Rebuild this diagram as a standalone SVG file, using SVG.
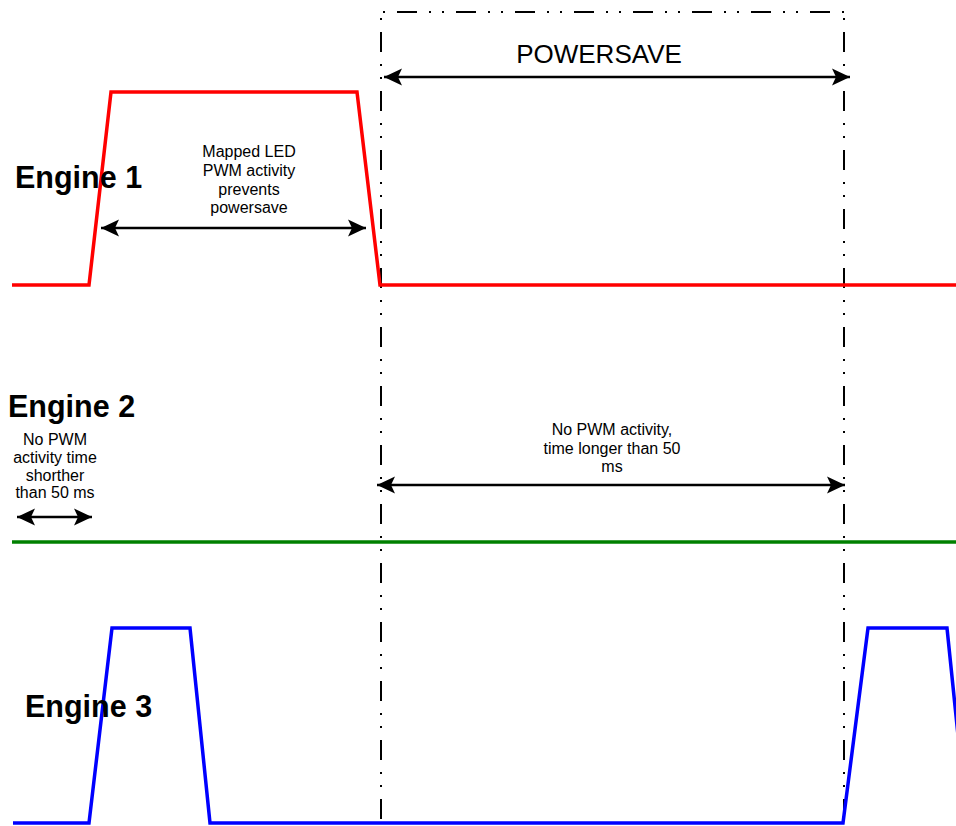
<svg xmlns="http://www.w3.org/2000/svg" width="956" height="826" viewBox="0 0 956 826">
<style>
text{font-family:"Liberation Sans",Arial,sans-serif;fill:#000}
.eng{font-size:30.5px;font-weight:bold}
.lbl{font-size:16px;text-anchor:middle}
.ps{font-size:26px;text-anchor:middle}
.sig{fill:none;stroke-width:3.5;stroke-linejoin:miter}
.box{fill:none;stroke:#000;stroke-width:2;stroke-dasharray:20 12 2 11 2 12}
.arr{stroke:#000;stroke-width:2.5;fill:none;marker-start:url(#ah);marker-end:url(#ah)}
</style>
<defs>
<marker id="ah" viewBox="-18 -9 18 18" refX="0" refY="0" markerWidth="18" markerHeight="18" markerUnits="userSpaceOnUse" orient="auto-start-reverse">
<path d="M0,0 L-18,-8.5 L-14,0 L-18,8.5 Z" fill="#000"/>
</marker>
</defs>
<rect width="956" height="826" fill="#fff"/>

<g id="powersave-window">
<line class="box" x1="381" y1="12" x2="844" y2="12" stroke-dashoffset="-16"/>
<line class="box" x1="381" y1="12" x2="381" y2="822" stroke-dashoffset="-20"/>
<line class="box" x1="844" y1="12" x2="844" y2="822" stroke-dashoffset="-20"/>
</g>

<g id="engine1">
<polyline class="sig" stroke="#ff0000" points="12,285 89,285 111,92 357,92 380,285 956,285"/>
<text class="eng" x="15" y="188">Engine 1</text>
</g>

<g id="engine2">
<line class="sig" stroke="#008000" x1="12" y1="542" x2="956" y2="542"/>
<text class="eng" x="8" y="417">Engine 2</text>
</g>

<g id="engine3">
<polyline class="sig" stroke="#0000ff" points="13,823 89,823 112,628 190,628 210,823 843,823 868,628 947,628 967,823"/>
<text class="eng" x="25" y="717">Engine 3</text>
</g>

<g id="connectors">
<line class="arr" x1="101" y1="228" x2="366" y2="228"/>
<line class="arr" x1="384" y1="77" x2="850" y2="77"/>
<line class="arr" x1="17" y1="517" x2="92" y2="517"/>
<line class="arr" x1="377" y1="485" x2="845" y2="485"/>
</g>

<g id="label-powersave">
<text class="ps" x="599" y="63">POWERSAVE</text>
</g>
<g id="label-mapped">
<text class="lbl" x="249" y="157">Mapped LED</text>
<text class="lbl" x="249" y="176">PWM activity</text>
<text class="lbl" x="249" y="194.5">prevents</text>
<text class="lbl" x="249" y="213">powersave</text>
</g>
<g id="label-short">
<text class="lbl" x="55" y="445">No PWM</text>
<text class="lbl" x="55" y="463">activity time</text>
<text class="lbl" x="55" y="481">shorther</text>
<text class="lbl" x="55" y="498">than 50 ms</text>
</g>
<g id="label-long">
<text class="lbl" x="612" y="435">No PWM activity,</text>
<text class="lbl" x="612" y="453.5">time longer than 50</text>
<text class="lbl" x="612" y="472">ms</text>
</g>
</svg>
